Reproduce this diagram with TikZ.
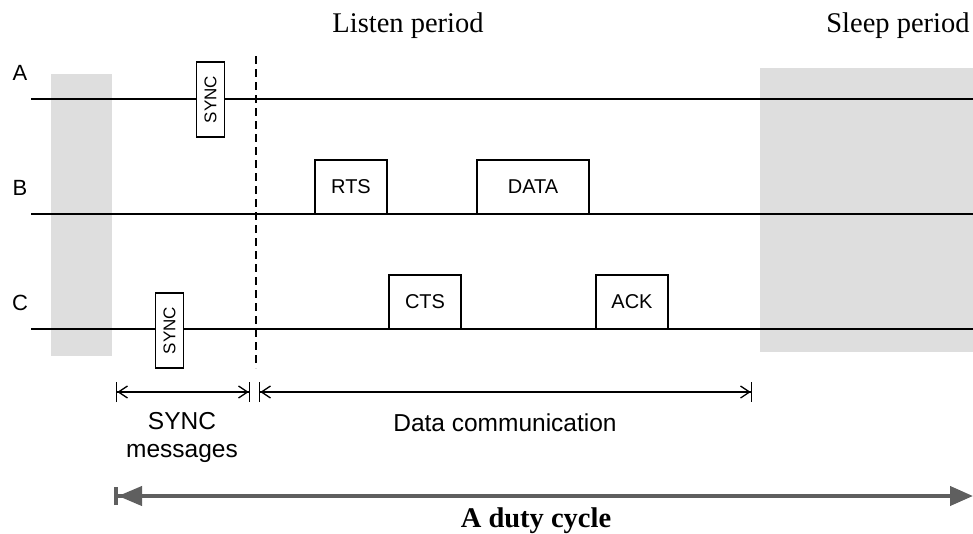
\documentclass[tikz,border=0pt]{standalone}
\usepackage{fontspec}
\setmainfont{Liberation Serif}
\setsansfont{Liberation Sans}
\usetikzlibrary{arrows.meta,positioning}
\definecolor{sleepgray}{RGB}{222,222,222}
\definecolor{cyclegray}{RGB}{95,95,95}
\tikzset{
  timeline/.style={line width=1.5pt},
  msgbox/.style={draw, line width=1.5pt, outer sep=0pt, inner sep=0pt,
    anchor=south west, minimum height=54, font=\sffamily\fontsize{20}{20}\selectfont},
  syncbox/.style={draw, line width=1.5pt, outer sep=0pt, inner sep=0pt, rotate=90,
    minimum width=75, minimum height=28, font=\sffamily\fontsize{17}{17}\selectfont},
  rowlabel/.style={font=\sffamily\fontsize{22}{22}\selectfont},
  dimline/.style={line width=1.3pt,
    {Bar[width=20pt,sep=0pt]Straight Barb[length=9pt,width=12pt]}-{Straight Barb[length=9pt,width=12pt]Bar[width=20pt,sep=0pt]}},
  dimlabel/.style={font=\sffamily\fontsize{24.5}{28}\selectfont, align=center},
  period/.style={anchor=base, font=\fontsize{28.5}{28.5}\selectfont}
}
\begin{document}
\begin{tikzpicture}[x=1pt,y=-1pt]
\useasboundingbox (0,0) rectangle (973,533);
\fill[sleepgray] (51,74) rectangle (112,356);
\fill[sleepgray] (760,68) rectangle (973,352);
\node[period] (listen) at (408,32) {Listen period};
\node[period] (sleep) at (898,32) {Sleep period};
\node[rowlabel] (rowA) at (20,73) {A};
\node[rowlabel] (rowB) at (20,188) {B};
\node[rowlabel] (rowC) at (20,303) {C};
\coordinate (a0) at (31,99);
\coordinate (a1) at (973,99);
\coordinate (b0) at (31,214);
\coordinate (b1) at (973,214);
\coordinate (c0) at (31,329);
\coordinate (c1) at (973,329);
\draw[timeline] (a0) -- (a1);
\draw[timeline] (b0) -- (b1);
\draw[timeline] (c0) -- (c1);
\coordinate (d0) at (256,56);
\coordinate (d1) at (256,368);
\draw[line width=1.3pt, dash pattern=on 8pt off 5pt] (d0) -- (d1);
\node[syncbox, fill=white] (syncA) at (210.5,99.5) {SYNC};
\node[syncbox, fill=white] (syncC) at (169.5,330.5) {SYNC};
\node[msgbox, fill=white, minimum width=72] (rts) at (315,214) {RTS};
\node[msgbox, fill=white, minimum width=112] (data) at (477,214) {DATA};
\node[msgbox, fill=white, minimum width=72] (cts) at (389,329) {CTS};
\node[msgbox, fill=white, minimum width=72] (ack) at (596,329) {ACK};
\coordinate (s0) at (116,392);
\coordinate (s1) at (250,392);
\coordinate (m0) at (259,392);
\coordinate (m1) at (752,392);
\draw[dimline] (s0) -- (s1);
\draw[dimline] (m0) -- (m1);
\node[dimlabel] (synclbl) at (182,437) {SYNC\\messages};
\node[dimlabel] (datalbl) at (505,423) {Data communication};
\coordinate (y0) at (114,496);
\coordinate (y1) at (973,496);
\draw[cyclegray, line width=4pt,
  {Bar[width=18pt,sep=0pt]Triangle[length=24pt,width=19pt]}-{Triangle[length=23pt,width=19pt]}] (y0) -- (y1);
\node[anchor=base, font=\bfseries\fontsize{28.5}{28.5}\selectfont] (cycle) at (536,527) {A duty cycle};
\end{tikzpicture}
\end{document}
